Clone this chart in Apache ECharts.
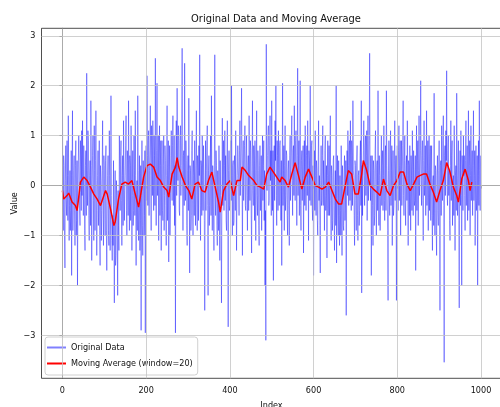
<!DOCTYPE html>
<html>
<head>
<meta charset="utf-8">
<script src="https://cdn.jsdelivr.net/npm/echarts@6/dist/echarts.min.js"></script>
<style>
  html, body { margin: 0; padding: 0; background: #fff; }
  #main { width: 500px; height: 407px; }
</style>
</head>
<body>
<div id="main"></div>
<script>
// raw samples, one per index (0..999)
var rawValues = [
  1.75,-0.2,-0.9,0.6,0.4,-1.0,-1.65,0.1,0.8,-0.3,-0.6,0.9,0.2,-0.7,1.4,0.2,-1.1,-0.4,0.3,-0.9,
  -0.5,0.7,-1.8,0.2,1.5,-0.9,-0.4,0.3,0.6,-0.5,-1.2,0.4,0.9,-1.0,-0.7,0.5,-2.0,-0.3,0.5,1.0,
  1.0,-0.4,-0.8,0.9,0.3,-0.5,1.1,-0.2,1.3,0.1,-0.6,0.8,0.2,-0.9,-1.3,0.4,0.7,-0.6,2.25,0.3,
  -0.4,1.1,0.9,-0.6,-1.1,0.2,0.5,-0.8,1.7,0.4,-1.5,-0.1,0.6,1.0,-0.3,-1.1,1.2,0.3,-0.9,0.5,
  1.5,0.1,-1.4,-0.5,0.2,0.7,-0.8,-0.2,0.9,-0.9,-1.6,0.4,0.1,-1.1,-0.5,0.3,1.3,-0.4,-1.2,0.6,
  0.4,-0.3,-1.0,0.5,0.8,-0.9,-1.7,-0.4,0.2,0.6,-0.9,-1.2,1.1,0.2,-1.3,-0.5,1.8,-0.2,-1.1,-1.5,
  -0.6,-1.2,0.5,-0.9,-2.35,-0.4,0.3,-1.6,-1.4,0.1,-0.2,-1.0,-2.2,-0.1,-0.8,-1.3,1.0,0.3,-0.5,0.6,
  0.9,-0.3,-1.2,0.2,0.6,-0.8,1.3,0.4,-0.7,-0.1,0.2,0.8,1.4,-0.5,-1.0,0.7,0.5,-0.6,1.7,0.2,
  -0.9,0.6,0.4,-0.7,1.2,0.1,-1.3,-0.2,0.7,-0.8,-0.5,1.0,0.3,-0.6,1.5,0.2,-1.6,-0.3,0.1,-0.9,
  1.8,0.3,-1.1,-0.5,0.6,-1.3,-0.7,0.4,-2.9,-0.2,0.9,-0.8,-1.4,0.5,0.2,-1.0,-0.6,0.7,-2.95,0.1,
  0.8,-0.3,2.2,0.6,-0.4,0.9,1.1,-0.6,0.3,0.7,1.6,0.2,-0.9,1.2,0.7,-0.2,1.3,0.4,-0.5,1.0,
  0.6,-0.4,2.55,0.3,-0.8,0.7,2.05,-0.2,0.2,1.0,-1.1,0.5,1.2,-0.6,0.4,0.9,-1.3,0.1,0.9,-0.5,
  -0.7,0.4,1.0,-0.9,-0.2,0.8,0.5,-0.4,-1.2,0.2,1.6,-0.7,0.3,0.9,-1.53,0.1,0.8,-1.0,-0.4,0.6,
  1.1,0.3,-0.3,0.8,1.4,-0.4,0.2,1.0,-0.8,0.4,-2.95,0.6,1.3,-0.2,1.95,0.5,0.1,1.2,0.9,-0.5,
  -0.6,0.9,1.2,-0.2,0.4,1.1,2.75,0.3,-0.9,0.6,0.7,-0.4,2.45,0.2,-0.3,0.9,0.5,-0.8,-1.2,0.3,
  0.6,-0.5,1.75,0.1,-1.75,0.4,0.3,-0.9,-0.6,0.7,1.1,-0.3,-1.0,0.5,0.2,-0.6,0.9,0.1,-0.8,0.4,
  1.5,-0.2,-0.9,0.6,0.3,-0.7,0.8,0.2,2.62,-0.4,-1.1,0.5,0.4,-0.6,1.0,0.1,-0.5,0.8,0.2,-0.7,
  -2.5,-0.3,0.9,-0.5,0.3,0.8,1.2,-0.4,-2.2,0.3,0.6,-0.8,-0.4,0.5,1.0,-0.6,1.8,0.2,-0.9,0.4,
  0.2,-0.6,-1.3,0.5,2.62,-0.2,-0.6,0.7,0.4,-0.8,-1.2,0.3,-0.3,-0.9,0.8,-0.4,-1.5,0.5,-0.2,-0.9,
  -2.35,-0.2,1.35,-0.4,0.2,0.9,-0.5,0.4,1.1,-0.3,0.6,-0.7,-0.9,0.5,1.3,-0.1,-2.83,0.3,0.7,-0.5,
  -0.4,0.6,0.9,-0.3,2.0,0.2,-1.0,0.4,0.5,-0.8,-0.7,0.6,0.3,-0.5,1.1,0.1,-1.3,-0.2,0.2,0.8,
  0.8,0.1,-0.6,0.7,1.3,-0.2,0.4,1.0,1.95,0.3,-1.4,0.5,0.9,-0.3,0.1,0.8,1.2,-0.4,-0.5,0.6,
  1.0,-0.2,-0.9,0.4,0.6,-0.5,1.4,0.2,-0.3,0.9,0.7,-0.6,-1.35,0.3,1.7,-0.1,-0.4,0.8,0.5,-0.7,
  0.9,-0.4,-1.1,0.3,1.5,-0.2,-0.6,0.7,0.3,-0.8,-1.2,0.4,0.8,-0.5,0.1,0.6,-0.9,0.2,1.0,-0.3,
  0.4,0.9,-0.7,0.3,-2.0,-0.5,-3.1,2.83,0.2,-0.1,0.6,1.0,1.2,-0.4,-0.3,0.8,1.4,0.1,0.7,-0.6,
  1.7,0.2,-0.5,0.7,-1.9,0.4,0.8,-0.3,1.3,0.5,2.0,-0.2,-0.8,0.9,0.6,-0.5,1.1,0.3,-0.4,0.8,
  0.9,0.2,-0.7,0.5,-1.6,0.1,2.05,-0.4,0.3,0.8,-0.9,0.4,1.2,-0.5,-0.2,0.7,0.6,-0.6,-1.0,0.3,
  0.5,-0.4,-1.2,0.6,1.0,-0.3,0.2,0.9,1.4,0.1,-0.6,0.7,0.8,-0.2,1.6,0.4,-0.3,0.9,1.1,0.2,
  -0.8,0.6,2.35,-0.2,0.4,0.9,-0.6,0.3,2.1,-0.4,-0.9,0.5,0.7,-0.3,0.2,0.8,-1.35,0.1,0.9,-0.4,
  1.2,0.3,-0.5,0.6,0.8,-0.2,1.3,0.4,-1.1,0.7,0.5,-0.3,2.0,0.2,-0.4,0.8,0.9,-0.5,-0.7,0.4,
  -1.8,0.3,0.7,-0.5,1.1,0.2,-0.6,0.5,0.3,-0.7,-1.0,0.4,1.3,-0.3,0.2,-0.8,-1.75,0.1,0.8,-0.4,
  -0.3,0.6,1.2,-0.4,0.5,0.1,-0.9,0.7,1.0,-0.5,-0.2,0.4,-1.45,0.2,0.9,-0.6,0.1,0.8,-0.6,0.3,
  1.4,-0.3,-1.1,0.4,0.2,-0.9,-0.7,0.5,0.6,-0.4,-1.3,-0.1,0.3,-0.8,2.0,-1.55,-0.2,0.6,-0.4,-1.0,
  0.5,-0.6,-1.2,0.2,-0.5,-1.0,0.8,-0.3,-1.4,0.4,0.1,-0.8,-0.9,0.3,0.6,-0.7,-0.3,0.5,-2.6,-0.2,
  0.7,-0.2,1.1,0.4,-0.4,0.8,0.9,-0.3,1.3,0.2,-0.5,0.9,0.6,-0.4,1.7,0.3,0.2,-0.6,-1.2,0.5,
  0.4,-0.3,-0.9,0.5,0.8,-0.6,-1.1,0.2,0.3,-0.8,-0.5,0.6,0.9,-0.4,1.7,-2.15,0.4,-0.6,0.2,0.7,
  1.3,0.2,-0.4,0.8,1.0,-0.2,0.6,1.1,-0.7,0.4,1.4,-0.3,0.2,0.9,2.65,0.3,-0.3,0.6,-1.8,-0.1,
  0.6,-0.4,-1.2,0.5,0.3,-0.8,-0.6,0.7,1.1,-0.2,-1.0,0.4,0.5,-0.5,1.9,0.1,-0.8,0.6,0.2,-0.9,
  -0.9,0.3,1.0,-0.4,0.4,0.7,-0.5,0.2,1.2,-0.3,-0.7,0.6,0.8,-0.5,1.9,0.4,-0.2,-0.9,-2.3,0.3,
  0.9,-0.2,-0.6,0.7,1.1,-0.4,0.3,0.8,-1.2,0.1,0.7,-0.6,-0.4,0.5,1.3,-0.3,0.2,0.6,-2.3,0.4,
  0.8,0.2,-0.5,0.7,1.2,-0.3,0.4,0.9,-1.0,0.3,0.9,-0.4,0.3,0.8,1.7,-0.2,-0.6,0.5,1.0,-0.3,
  -0.8,0.4,0.6,-0.3,1.3,0.2,-1.2,0.5,0.4,-0.6,0.8,0.1,-0.9,0.6,0.2,-0.5,1.1,0.3,-0.6,0.7,
  0.7,-0.4,-0.3,0.6,-1.7,0.2,1.2,-0.5,0.5,0.9,-0.8,0.3,1.4,-0.2,0.2,0.7,2.1,0.1,-0.4,0.6,
  0.9,-0.3,-1.1,0.5,1.3,-0.2,0.1,0.8,-0.6,0.3,1.5,-0.4,0.3,0.9,-0.9,0.2,1.0,-0.5,0.4,0.8,
  -0.7,0.3,0.8,-0.6,-1.3,0.1,0.2,-0.8,1.85,-0.3,-1.0,0.4,0.3,-0.9,-1.4,0.2,0.6,-0.5,-0.8,0.3,
  0.9,-0.3,-2.5,0.4,0.5,-0.6,1.2,0.2,-0.3,0.9,1.4,-0.4,-3.54,0.6,0.8,-0.2,1.1,0.5,2.3,-0.1,
  -0.4,0.7,1.0,-0.2,0.3,-0.7,-1.1,0.4,1.3,-0.3,0.6,0.9,-0.8,0.1,0.2,-0.6,1.2,0.3,-1.3,0.2,
  0.4,-0.5,1.85,0.2,-0.6,0.4,0.9,-0.7,-2.45,0.3,0.7,-0.4,1.1,-0.2,-2.0,0.6,0.3,-0.5,1.0,0.2,
  0.6,-0.2,-0.9,0.5,1.3,-0.4,0.2,0.8,-0.7,0.3,1.5,-0.5,0.4,0.9,-1.0,0.2,1.2,-0.3,0.3,0.7,
  -0.6,0.4,1.5,-0.3,0.2,0.7,-1.2,0.1,0.8,-0.5,-0.3,0.6,-2.0,0.2,0.9,-0.4,1.7,0.3,-0.5,0.6
];

// moving average (window=20)
var maIdx = [
  0, 3, 11, 15, 23, 31, 35, 39, 43, 51,
  59, 67, 75, 83, 91, 99, 103, 107, 115, 123,
  126, 134, 142, 150, 158, 166, 174, 182, 186, 194,
  202, 210, 218, 226, 234, 242, 250, 254, 262, 270,
  274, 278, 286, 294, 302, 309, 317, 325, 333, 341,
  349, 357, 365, 373, 377, 385, 393, 401, 409, 417,
  425, 429, 437, 445,
  449, 457, 465, 473, 481, 488, 496, 504, 512, 520,
  524, 532, 540, 548, 556, 564, 572, 580, 588, 596,
  604, 612, 620, 628, 636, 644, 652, 660, 667, 675,
  683, 691, 699, 707, 715, 719, 727, 735, 743, 751,
  759, 767, 775, 783, 791, 799, 807, 815, 823, 831,
  839, 847, 854, 862, 870, 878, 886, 894, 902, 910,
  918, 926, 934, 942, 946, 954, 962, 970, 974, 978
];
var maVal = [
  -0.10, -0.27, -0.2, -0.15, -0.33, -0.4, -0.5, -0.23, 0.07, 0.17,
  0.1, -0.03, -0.17, -0.27, -0.4, -0.2, -0.1, -0.17, -0.47, -0.8,
  -0.73, -0.27, 0.03, 0.07, 0.03, 0.1, -0.17, -0.43, -0.23, 0.17,
  0.4, 0.43, 0.37, 0.17, 0.1, -0.03, -0.1, -0.23, 0.23, 0.37,
  0.56, 0.37, 0.17, 0, -0.1, -0.27, 0.03, 0.07, -0.1, -0.13,
  0.1, 0.27, -0.03, -0.33, -0.53, -0.1, 0.03, 0.1, -0.2, 0.1,
  0.1, 0.37, 0.3, 0.2,
  0.2, 0.1, 0, -0.03, -0.07, 0.23, 0.37, 0.27, 0.17, 0.07,
  0.17, 0.1, -0.03, 0.23, 0.46, 0.2, -0.07, 0.17, 0.33, 0.17,
  0, -0.03, -0.07, -0.03, 0.07, -0.1, -0.27, -0.37, -0.37, -0.03,
  0.3, 0.23, -0.17, -0.17, 0.23, 0.5, 0.3, 0, -0.07, -0.13,
  -0.2, 0.13, -0.1, -0.2, 0, 0.1, 0.27, 0.27, 0.03, -0.1,
  0.03, 0.17, 0.2, 0.23, 0.23, 0.03, -0.13, -0.33, -0.1, 0.1,
  0.46, 0.27, -0.03, -0.2, -0.33, 0.13, 0.33, 0.1, -0.1, 0.07
];

var xTicks = [0, 200, 400, 600, 800, 1000];
var yTicks = [-3, -2, -1, 0, 1, 2, 3];

var FONT = '"DejaVu Sans Condensed", "DejaVu Sans", sans-serif';

var chart = echarts.init(document.getElementById('main'), null, { renderer: 'canvas' });

var rawData = rawValues.map(function (v, i) { return [i, v]; });
var maData = maIdx.map(function (x, i) { return [x, maVal[i]]; });

var gridLines = xTicks.map(function (v) { return { xAxis: v }; })
  .concat(yTicks.map(function (v) { return { yAxis: v }; }));

var option = {
  animation: false,
  title: {
    text: 'Original Data and Moving Average',
    left: 271,
    top: 9,
    textAlign: 'center',
    textStyle: { fontFamily: FONT, fontSize: 11, fontWeight: 'normal', color: '#111' }
  },
  legend: {
    data: ['Original Data', 'Moving Average (window=20)'],
    orient: 'vertical',
    left: 45,
    top: 337,
    icon: 'rect',
    itemWidth: 19,
    itemHeight: 2,
    itemGap: 7,
    padding: [6, 5, 7, 2],
    borderColor: '#d0d0d0',
    borderWidth: 1,
    borderRadius: 3,
    backgroundColor: 'rgba(255,255,255,0.8)',
    textStyle: { fontFamily: FONT, fontSize: 9, color: '#111' }
  },
  grid: {
    left: 41.5,
    top: 28.3,
    width: 460,
    height: 350,
    show: true,
    borderColor: '#222',
    borderWidth: 0.8,
    containLabel: false,
    outerBoundsMode: 'none'
  },
  xAxis: {
    type: 'value',
    min: -50,
    max: 1049,
    name: 'Index',
    nameLocation: 'middle',
    nameGap: 23,
    nameTextStyle: { fontFamily: FONT, fontSize: 9, color: '#111' },
    axisLine: { show: true, lineStyle: { color: '#222', width: 0.8 } },
    axisTick: { show: true, length: 3, customValues: xTicks, lineStyle: { color: '#222', width: 0.8 } },
    axisLabel: {
      customValues: xTicks,
      margin: 8,
      fontFamily: FONT,
      fontSize: 9,
      color: '#111',
      formatter: function (v) { return String(v); }
    },
    splitLine: { show: false }
  },
  yAxis: {
    type: 'value',
    min: -3.86,
    max: 3.15,
    name: 'Value',
    nameLocation: 'middle',
    nameGap: 22,
    nameMoveOverlap: false,
    nameTextStyle: { fontFamily: FONT, fontSize: 9, color: '#111' },
    axisLine: { show: true, lineStyle: { color: '#222', width: 0.8 } },
    axisTick: { show: true, length: 3, customValues: yTicks, lineStyle: { color: '#222', width: 0.8 } },
    axisLabel: {
      customValues: yTicks,
      margin: 6,
      fontFamily: FONT,
      fontSize: 9,
      color: '#111',
      formatter: function (v) { return String(v).replace('-', '\u2212'); }
    },
    splitLine: { show: false }
  },
  series: [
    {
      // matplotlib style grid, under the data
      type: 'line',
      data: [],
      z: 1,
      silent: true,
      markLine: {
        silent: true,
        symbol: 'none',
        label: { show: false },
        animation: false,
        lineStyle: { color: '#c4c4c4', type: 'solid', width: 0.8 },
        emphasis: { disabled: true },
        data: gridLines
      }
    },
    {
      name: 'Original Data',
      type: 'line',
      data: rawData,
      symbol: 'none',
      sampling: null,
      z: 2,
      color: '#8080ff',
      lineStyle: { width: 0.8, color: '#0000ff', opacity: 0.5 }
    },
    {
      name: 'Moving Average (window=20)',
      type: 'line',
      data: maData,
      symbol: 'none',
      z: 3,
      color: '#ff0000',
      lineStyle: { width: 1.5, color: '#ff0000' }
    }
  ]
};

chart.setOption(option);
</script>
</body>
</html>
